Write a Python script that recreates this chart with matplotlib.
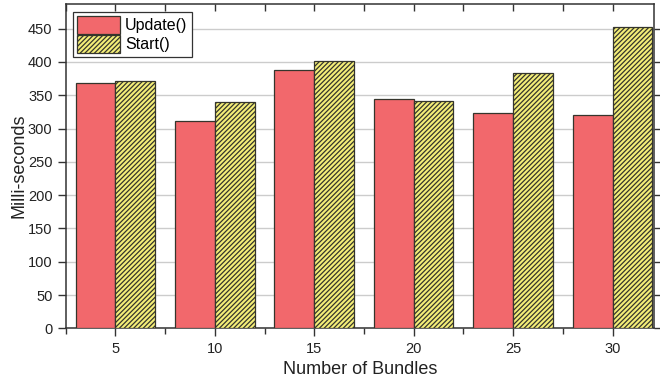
import matplotlib
matplotlib.use("Agg")
import matplotlib.pyplot as plt
from matplotlib.ticker import MultipleLocator
import numpy as np

plt.rcParams['font.family'] = ['Liberation Sans', 'DejaVu Sans']
plt.rcParams['hatch.linewidth'] = 0.9

bundles = [5, 10, 15, 20, 25, 30]
update_ms = [368, 311, 388, 344, 324, 320]
start_ms = [372, 340, 402, 342, 383, 452]
series_labels = ["Update()", "Start()"]
y_ticks = [0, 50, 100, 150, 200, 250, 300, 350, 400, 450]

red = "#F2686C"
yellow = "#F4EE78"
edge = "#35352C"
axis_col = "#333333"

fig = plt.figure(figsize=(6.6, 3.8), dpi=100)
ax = fig.add_axes([0.0995, 0.136, 0.8919, 0.8535])

x = np.array(bundles, dtype=float)
w = 2.0
ax.bar(x - w / 2, update_ms, width=w, color=red, edgecolor=edge,
       linewidth=0.9, label=series_labels[0], zorder=3)
ax.bar(x + w / 2, start_ms, width=w, color=yellow, edgecolor=edge,
       linewidth=0.9, hatch="///////", label=series_labels[1], zorder=3)

ax.set_xlim(2.5, 32.1)
ax.set_ylim(0, 487)
ax.set_xticks(bundles)
ax.xaxis.set_minor_locator(MultipleLocator(2.5))
ax.set_yticks(y_ticks)

ax.yaxis.grid(True, color="#cccccc", linewidth=1.0, zorder=0)
ax.set_axisbelow(True)

for s in ax.spines.values():
    s.set_color(axis_col)
    s.set_linewidth(1.1)

ax.tick_params(axis="both", which="both", colors=axis_col, labelsize=10.5,
               labelcolor="#222222", width=1.0)
ax.tick_params(axis="x", which="major", direction="out", length=6, top=True)
ax.tick_params(axis="x", which="minor", direction="out", length=4, top=True)
ax.tick_params(axis="y", which="major", direction="out", length=6, right=True)

# top-axis ticks point into the frame
for t in ax.xaxis.get_major_ticks() + ax.xaxis.get_minor_ticks():
    t.tick2line.set_marker(3)
    t.tick2line.set_markersize(5)

ax.set_xlabel("Number of Bundles", fontsize=13, color="#222222")
ax.set_ylabel("Milli-seconds", fontsize=13, color="#222222")
ax.xaxis.set_label_coords(0.5, -0.1)
ax.yaxis.set_label_coords(-0.064, 0.5)

leg = ax.legend(loc="upper left", bbox_to_anchor=(0.013, 0.975),
                borderaxespad=0, fancybox=False, fontsize=11.5,
                handlelength=2.7, handleheight=1.3, handletextpad=0.3,
                borderpad=0.25, labelspacing=0.1, framealpha=1)
leg.get_frame().set_edgecolor(axis_col)
leg.get_frame().set_linewidth(0.9)

fig.savefig("out.png", dpi=100)
